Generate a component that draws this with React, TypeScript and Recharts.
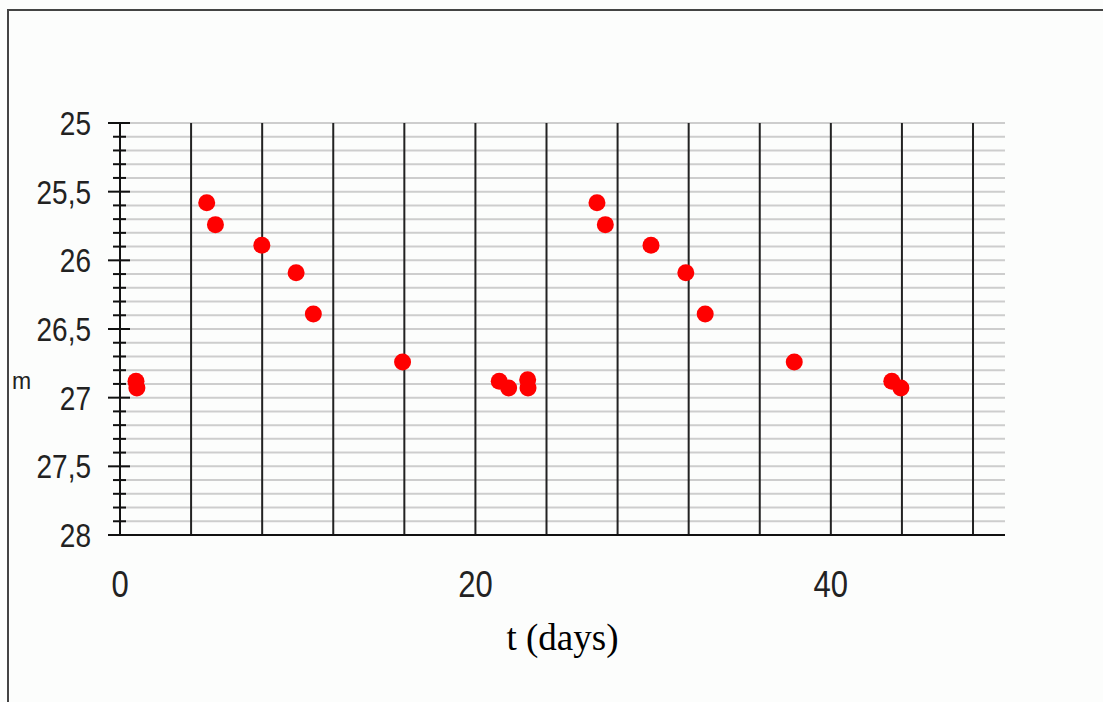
import React from 'react';
import { ScatterChart, Scatter, XAxis, YAxis, CartesianGrid, ReferenceLine, Label } from 'recharts';

const T_DAYS = [0.9, 0.95, 4.88, 5.37, 7.98, 9.91, 10.88, 15.9, 21.34, 21.87, 22.94, 22.96, 26.84, 27.31, 29.88, 31.84, 32.93, 37.94, 43.43, 43.94];
const MAG = [26.88, 26.93, 25.58, 25.74, 25.89, 26.09, 26.39, 26.74, 26.88, 26.93, 26.87, 26.93, 25.58, 25.74, 25.89, 26.09, 26.39, 26.74, 26.88, 26.93];

const X_TICKS = [0, 20, 40];
const X_LINES = [4, 8, 12, 16, 20, 24, 28, 32, 36, 40, 44, 48];
const Y_TICKS = Array.from({ length: 31 }, (_, i) => Math.round((25 + i / 10) * 10) / 10);

const data = T_DAYS.map((t, i) => ({ t, m: MAG[i] }));

const TICK_FONT = '"Liberation Sans", Arial, sans-serif';

const YTick = ({ x, y, payload }: any) => {
  const v = payload.value;
  const major = Math.abs(v * 2 - Math.round(v * 2)) < 1e-6;
  return (
    <g>
      <line x1={major ? x - 12 : x - 7} x2={major ? x + 10 : x + 6} y1={y} y2={y} stroke="#111" strokeWidth={2} />
      {major && (
        <text
          transform={`translate(${x - 29},${y + 12}) scale(1,1.2)`}
          textAnchor="end"
          fontSize={28}
          fontFamily={TICK_FONT}
          fill="#222"
        >
          {String(v).replace('.', ',')}
        </text>
      )}
    </g>
  );
};

const XTick = ({ x, y, payload }: any) => (
  <text
    transform={`translate(${x},${y + 62}) scale(1,1.18)`}
    textAnchor="middle"
    fontSize={31}
    fontFamily={TICK_FONT}
    fill="#222"
  >
    {payload.value}
  </text>
);

const Dot = ({ cx, cy }: any) => <circle cx={cx} cy={cy} r={8.5} fill="#ff0000" />;

const XTitle = ({ viewBox }: any) => (
  <text
    x={viewBox.x + viewBox.width / 2}
    y={viewBox.y + 115}
    textAnchor="middle"
    fontSize={37}
    fontFamily='"Liberation Serif", "Times New Roman", serif'
    fill="#000"
  >
    t (days)
  </text>
);

const YTitle = ({ viewBox }: any) => (
  <text x={viewBox.x + 12} y={389} fontSize={23} fontFamily={TICK_FONT} fill="#222">
    m
  </text>
);

export default function App() {
  return (
    <div style={{ position: 'absolute', left: 0, top: 0, width: 1103, height: 702, overflow: 'hidden', background: '#fcfdfc' }}>
      <svg width={1103} height={702} style={{ position: 'absolute', left: 0, top: 0 }}>
        <path d="M8 720 L8 10 L1120 10" fill="none" stroke="#444" strokeWidth={2} />
      </svg>
      <div style={{ position: 'absolute', left: 0, top: 0 }}>
        <ScatterChart width={1103} height={702} margin={{ top: 123, right: 98, bottom: 87, left: 0 }}>
          <CartesianGrid vertical={false} stroke="#cdcdcd" strokeWidth={2} />
          <XAxis
            type="number"
            dataKey="t"
            domain={[0, 49.8]}
            ticks={X_TICKS}
            interval={0}
            height={80}
            tickSize={0}
            tickMargin={0}
            tickLine={false}
            axisLine={{ stroke: '#111', strokeWidth: 2 }}
            tick={<XTick />}
          >
            <Label content={<XTitle />} />
          </XAxis>
          <YAxis
            type="number"
            dataKey="m"
            domain={[25, 28]}
            reversed
            ticks={Y_TICKS}
            interval={0}
            width={120}
            tickSize={0}
            tickMargin={0}
            tickLine={false}
            axisLine={{ stroke: '#111', strokeWidth: 2 }}
            tick={<YTick />}
          >
            <Label content={<YTitle />} />
          </YAxis>
          {X_LINES.map((v) => (
            <ReferenceLine key={v} x={v} stroke="#222" strokeWidth={2} />
          ))}
          <Scatter data={data} shape={<Dot />} isAnimationActive={false} />
        </ScatterChart>
      </div>
    </div>
  );
}
